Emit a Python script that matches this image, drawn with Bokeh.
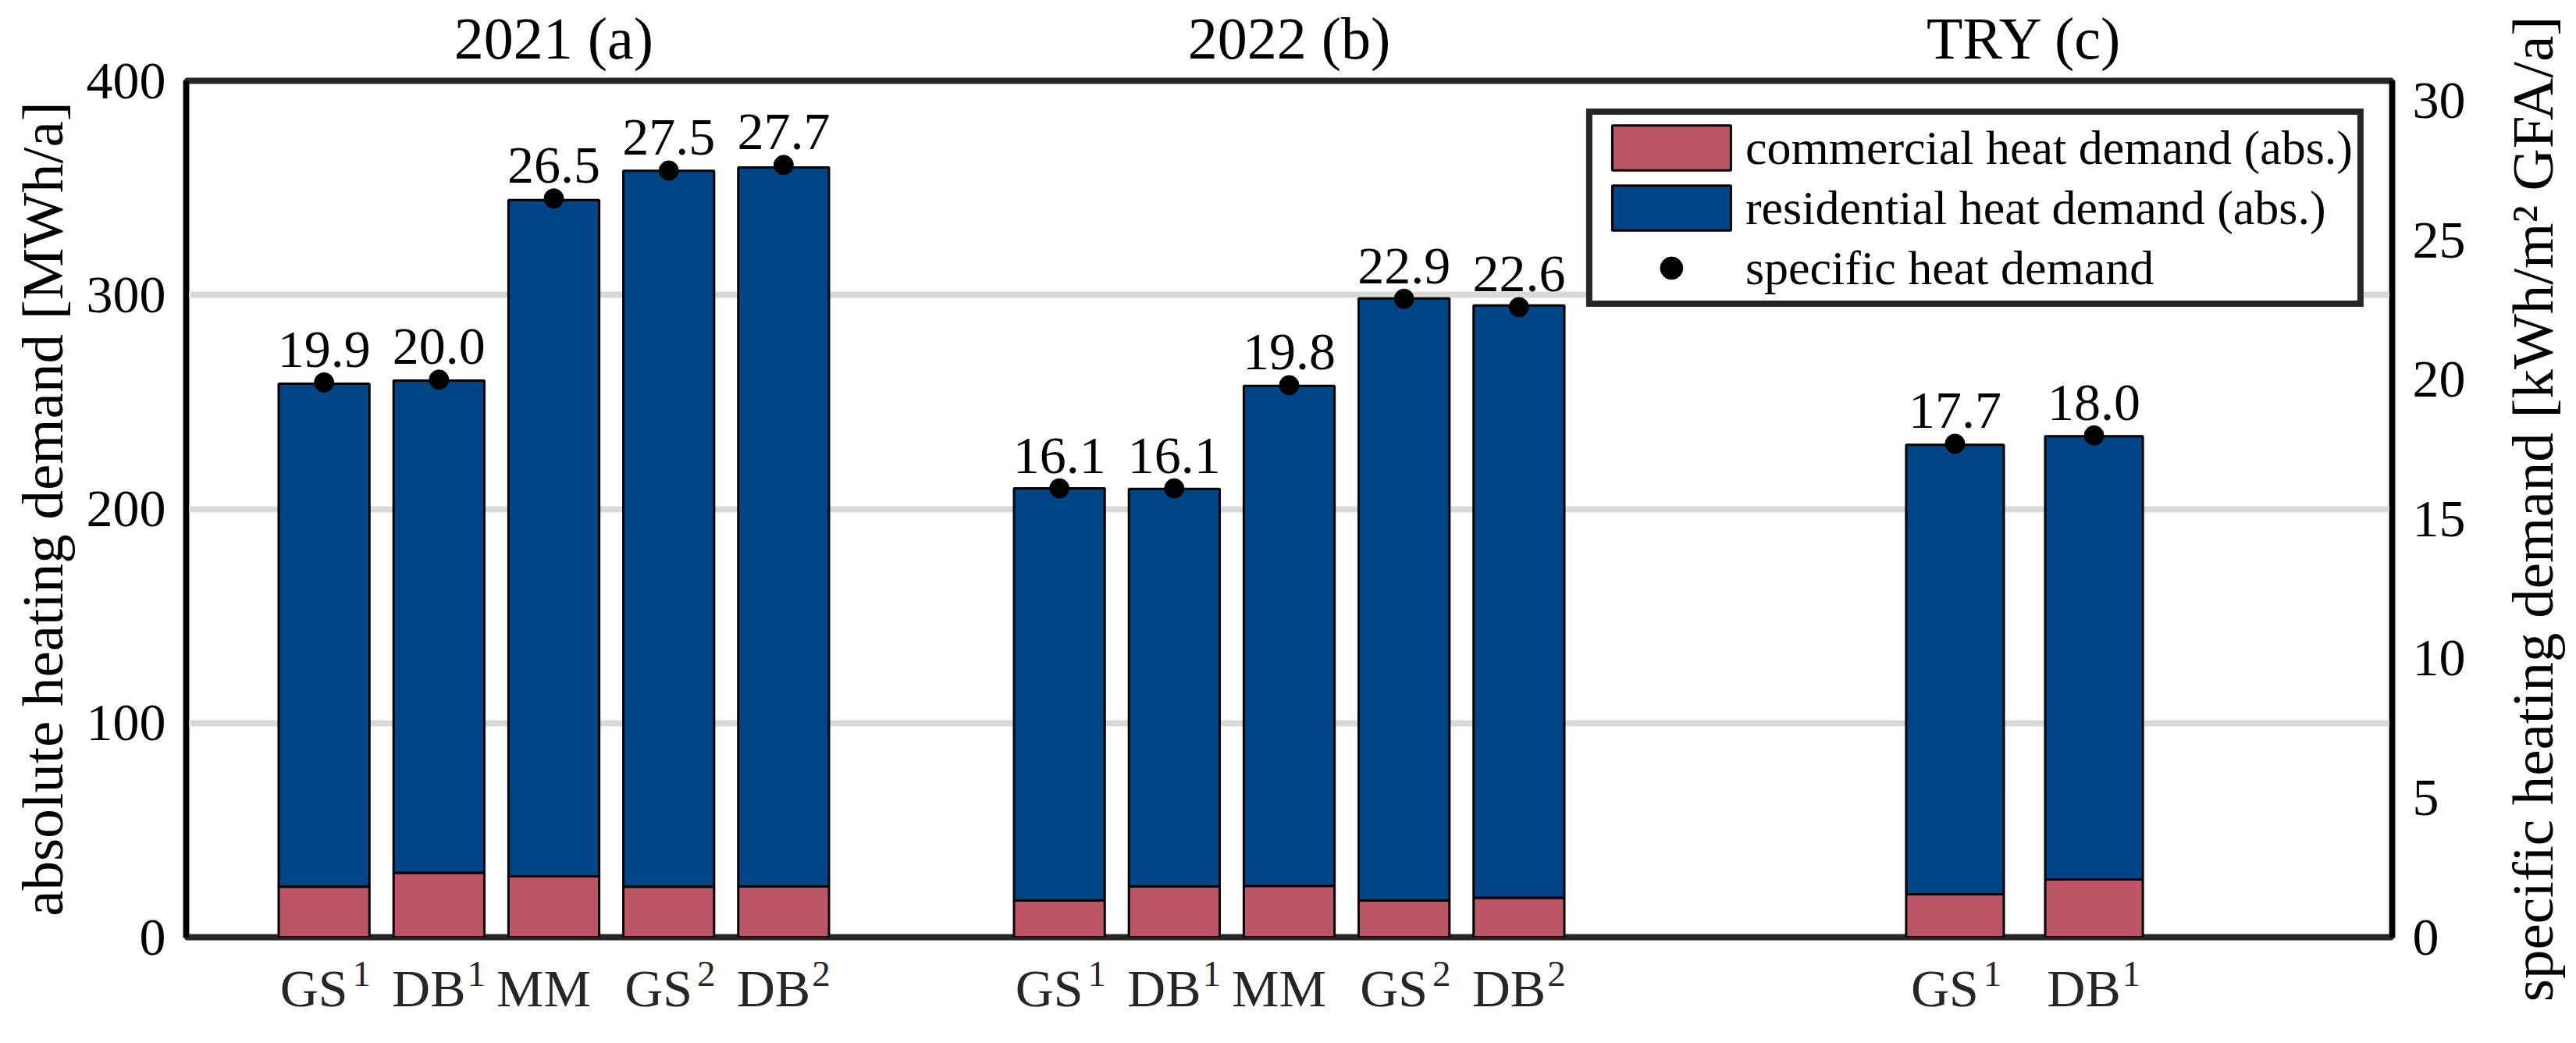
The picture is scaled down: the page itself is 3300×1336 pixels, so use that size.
import math
from bokeh.plotting import figure
from bokeh.layouts import row
from bokeh.models import (Range1d, LinearAxis, FixedTicker, ColumnDataSource,
                          Legend, LegendItem, Title)
from bokeh.embed import file_html
from bokeh.resources import INLINE
from bokeh.core.properties import value

# ---------------- data ----------------
group_titles = ["2021 (a)", "2022 (b)", "TRY (c)"]
bar_group = [0, 0, 0, 0, 0, 1, 1, 1, 1, 1, 2, 2]
bar_names = ["GS", "DB", "MM", "GS", "DB", "GS", "DB", "MM", "GS", "DB", "GS", "DB"]
bar_sups = ["1", "1", "", "2", "2", "1", "1", "", "2", "2", "1", "1"]
commercial = [23.6, 30.1, 28.4, 23.6, 23.7, 17.1, 23.7, 24.0, 17.1, 18.4, 20.1, 27.0]
residential = [234.9, 229.9, 315.9, 334.4, 335.8, 192.6, 185.7, 233.5, 281.3, 276.7, 209.9, 207.0]
specific = [19.9, 20.0, 26.5, 27.5, 27.7, 16.1, 16.1, 19.8, 22.9, 22.6, 17.7, 18.0]
left_ticks = [0, 100, 200, 300, 400]
right_ticks = [0, 5, 10, 15, 20, 25, 30]

legend_labels = ["commercial heat demand (abs.)", "residential heat demand (abs.)",
                 "specific heat demand"]
left_label = "absolute heating demand [MWh/a]"
right_label = "specific heating demand [kWh/m\u00b2 GFA/a]"

# ---------------- layout / style ----------------
W, H = 3200, 1334          # main figure
W2 = 96                    # strip holding the right axis title
B_LEFT, B_RIGHT, B_TOP, B_BOTTOM = 238, 136, 103, 134
X_END = 19.2
Y_END = 400
SPEC_END = 30.72
group_center = [3.2, 9.6, 16.0]
group_pitch = [1.0, 1.0, 1.21]
group_barw = [0.79, 0.79, 0.85]
VALUE_LIFT_PX = 20          # value labels float above the dots

RED = "#BC5565"
BLUE = "#004586"
FRAME = "#262626"
FONT = "Liberation Serif"

PX_X = (W - B_LEFT - B_RIGHT) / X_END          # screen px per x unit
PX_SPEC = (H - B_TOP - B_BOTTOM) / SPEC_END    # screen px per specific unit

xs, widths = [], []
for g in range(len(group_titles)):
    idx = [i for i, gg in enumerate(bar_group) if gg == g]
    n = len(idx)
    for k, i in enumerate(idx):
        xs.append(group_center[g] + (k - (n - 1) / 2) * group_pitch[g])
        widths.append(group_barw[g])

totals = [c + r for c, r in zip(commercial, residential)]
src = ColumnDataSource(dict(
    x=xs, w=widths, com=commercial, tot=totals, spec=specific,
    spec_lbl=[f"{v:.1f}" for v in specific],
    lbl_y=[v + VALUE_LIFT_PX / PX_SPEC for v in specific],
))

p = figure(width=W, height=H, x_range=Range1d(0, X_END), y_range=Range1d(0, Y_END),
           output_backend="svg", toolbar_location=None, x_axis_location=None,
           min_border_left=B_LEFT, min_border_right=B_RIGHT,
           min_border_top=B_TOP, min_border_bottom=B_BOTTOM,
           background_fill_color="white", border_fill_color="white")
p.extra_y_ranges = {"spec": Range1d(0, SPEC_END)}

p.outline_line_color = FRAME
p.outline_line_width = 8

# grid
p.xgrid.visible = False
p.ygrid.ticker = FixedTicker(ticks=left_ticks)
p.ygrid.grid_line_color = "#d9d9d9"
p.ygrid.grid_line_width = 8


def plain_axis(ax, size, standoff, color):
    ax.major_tick_line_color = None
    ax.minor_tick_line_color = None
    ax.major_tick_out = 0
    ax.major_tick_in = 0
    ax.minor_tick_out = 0
    ax.minor_tick_in = 0
    ax.major_label_standoff = standoff
    ax.major_label_text_font = FONT
    ax.major_label_text_font_size = size
    ax.major_label_text_color = color


# y axes
yax = p.yaxis[0]
yax.ticker = FixedTicker(ticks=left_ticks)
rax = LinearAxis(y_range_name="spec", ticker=FixedTicker(ticks=right_ticks))
p.add_layout(rax, "right")
for ax in (yax, rax):
    plain_axis(ax, "68px", 26, "black")
    ax.axis_line_color = "black"
    ax.axis_line_width = 7
yax.axis_label = left_label
yax.axis_label_text_font = FONT
yax.axis_label_text_font_size = "75px"
yax.axis_label_text_font_style = "normal"
yax.axis_label_text_color = "black"
yax.axis_label_standoff = 12

# group titles (axis above)
top_ax = LinearAxis(ticker=FixedTicker(ticks=group_center),
                    major_label_overrides=dict(zip(group_center, group_titles)))
plain_axis(top_ax, "76px", 13, "black")
top_ax.axis_line_color = None
p.add_layout(top_ax, "above")

# category labels: superscripts (closest to frame), then names
sup_ticks = [x + 48 / PX_X for x, s in zip(xs, bar_sups) if s]
sup_texts = [s for s in bar_sups if s]
sup_ax = LinearAxis(ticker=FixedTicker(ticks=sup_ticks),
                    major_label_overrides=dict(zip(sup_ticks, sup_texts)))
plain_axis(sup_ax, "47px", 31, FRAME)
sup_ax.axis_line_color = None
p.add_layout(sup_ax, "below")

name_ticks = [x - 13 / PX_X for x in xs]
name_ax = LinearAxis(ticker=FixedTicker(ticks=name_ticks),
                     major_label_overrides=dict(zip(name_ticks, bar_names)))
plain_axis(name_ax, "68px", -38, FRAME)
name_ax.axis_line_color = None
p.add_layout(name_ax, "below")

# bars
r_com = p.vbar(x="x", width="w", bottom=0, top="com", source=src,
               fill_color=RED, line_color="black", line_width=3)
r_res = p.vbar(x="x", width="w", bottom="com", top="tot", source=src,
               fill_color=BLUE, line_color="black", line_width=3)
r_dot = p.scatter(x="x", y="spec", source=src, y_range_name="spec",
                  size=25, fill_color="black", line_color="black")
p.text(x="x", y="lbl_y", text="spec_lbl", source=src, y_range_name="spec",
       text_align="center", text_baseline="bottom",
       text_font=value(FONT), text_font_size="68px", text_color="black")

legend = Legend(items=[LegendItem(label=legend_labels[0], renderers=[r_com]),
                       LegendItem(label=legend_labels[1], renderers=[r_res]),
                       LegendItem(label=legend_labels[2], renderers=[r_dot])],
                location="top_right", margin=36, padding=6, spacing=5,
                glyph_width=190, glyph_height=72, label_standoff=-8,
                label_text_font=FONT, label_text_font_size="62px",
                label_text_color="black",
                border_line_color=FRAME, border_line_width=8, border_line_alpha=1.0,
                background_fill_color="white", background_fill_alpha=1.0)
p.add_layout(legend)

# narrow strip to the right: its left-side title is the right axis title
p2 = figure(width=W2, height=H, output_backend="svg", toolbar_location=None,
            min_border_left=0, min_border_right=0,
            x_axis_location=None, y_axis_location=None, outline_line_color=None,
            background_fill_color="white", border_fill_color="white")
p2.grid.visible = False
p2.add_layout(Title(text=right_label, align="center", offset=23, standoff=0,
                    text_font=FONT, text_font_size="75px", text_font_style="normal",
                    text_color="black"), "left")

open("out.html", "w").write(file_html(row(p, p2), INLINE))
